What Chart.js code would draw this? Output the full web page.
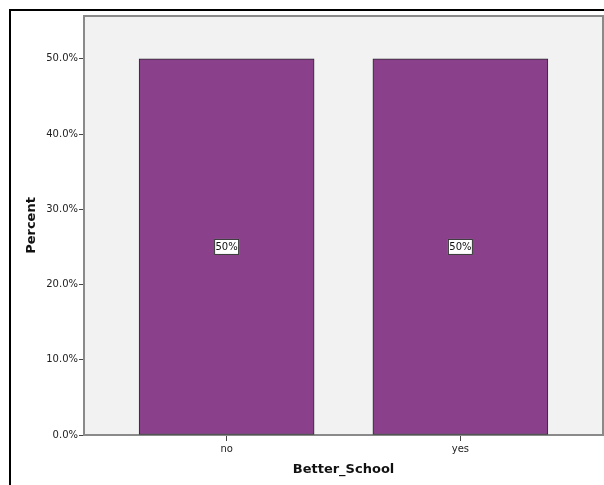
<!DOCTYPE html>
<html>
<head>
<meta charset="utf-8">
<script src="https://cdn.jsdelivr.net/npm/chart.js@4"></script>
<style>
  html, body { margin: 0; padding: 0; background: #fff; }
  #wrap { width: 604px; height: 485px; }
</style>
</head>
<body>
<div id="wrap"><canvas id="schoolChart" width="604" height="485"></canvas></div>
<script>
const categories = ['no', 'yes'];
const percents = [50, 50];
const barLabels = ['50%', '50%'];
const yTicks = [0, 10, 20, 30, 40, 50];

const purple = '#8b408c';

// frame lines and the grey plot panel, like the SPSS output
const panel = {
  id: 'panel',
  beforeDraw(chart) {
    const { ctx, chartArea: a } = chart;
    ctx.save();
    ctx.fillStyle = '#000';
    ctx.fillRect(9, 9, chart.width - 9, 2);
    ctx.fillRect(9, 9, 2, chart.height - 9);
    ctx.fillStyle = '#f2f2f2';
    ctx.fillRect(a.left, a.top, a.right - a.left, a.bottom - a.top);
    ctx.strokeStyle = '#8a8a8a';
    ctx.lineWidth = 2;
    ctx.strokeRect(a.left, a.top, a.right - a.left, a.bottom - a.top);
    ctx.restore();
  }
};

// small white boxes in the middle of each bar
const boxLabels = {
  id: 'boxLabels',
  afterDatasetsDraw(chart) {
    const { ctx } = chart;
    const y = chart.scales.y;
    ctx.save();
    ctx.font = '10px "DejaVu Sans"';
    ctx.textAlign = 'center';
    ctx.textBaseline = 'middle';
    chart.getDatasetMeta(0).data.forEach((bar, i) => {
      const cy = y.getPixelForValue(percents[i] / 2);
      const w = 25, h = 16;
      ctx.fillStyle = '#fff';
      ctx.fillRect(bar.x - w / 2, cy - h / 2, w, h);
      ctx.strokeStyle = '#333';
      ctx.lineWidth = 1;
      ctx.strokeRect(bar.x - w / 2 + 0.5, cy - h / 2 + 0.5, w - 1, h - 1);
      ctx.fillStyle = '#111';
      ctx.fillText(barLabels[i], bar.x, cy + 0.5);
    });
    ctx.restore();
  }
};

new Chart(document.getElementById('schoolChart'), {
  type: 'bar',
  data: {
    datasets: [{
      data: categories.map((c, i) => ({ x: i, y: percents[i] })),
      backgroundColor: purple,
      borderColor: '#2b2b2b',
      borderWidth: 1,
      borderSkipped: false,
      barThickness: 175
    }]
  },
  options: {
    responsive: false,
    animation: false,
    layout: { padding: { left: 0, top: 16, right: 1, bottom: 0 } },
    plugins: {
      legend: { display: false },
      tooltip: { enabled: false }
    },
    scales: {
      x: {
        type: 'linear',
        offset: false,
        min: -0.61,
        max: 1.61,
        afterBuildTicks: s => { s.ticks = categories.map((c, i) => ({ value: i })); },
        afterFit: s => { s.height = 50; },
        ticks: {
          callback: v => categories[v],
          color: '#222',
          font: { family: 'DejaVu Sans', size: 10 },
          padding: 2,
          maxRotation: 0
        },
        grid: { offset: false, drawOnChartArea: false, tickLength: 6, color: '#444' },
        border: { color: '#8a8a8a', width: 2 },
        title: {
          display: true,
          text: 'Better_School',
          color: '#111',
          font: { family: 'DejaVu Sans', size: 13, weight: 'bold' },
          padding: { top: 0, bottom: 8 }
        }
      },
      y: {
        min: 0,
        max: 55.7,
        afterBuildTicks: s => { s.ticks = yTicks.map(v => ({ value: v })); },
        afterFit: s => { s.width = 84; },
        ticks: {
          callback: v => v.toFixed(1) + '%',
          color: '#222',
          font: { family: 'DejaVu Sans', size: 10 },
          padding: 1
        },
        grid: { drawOnChartArea: false, tickLength: 5, color: '#444' },
        border: { color: '#8a8a8a', width: 2 },
        title: {
          display: true,
          text: 'Percent',
          color: '#111',
          font: { family: 'DejaVu Sans', size: 13, weight: 'bold' },
          padding: { top: 24, bottom: 0 }
        }
      }
    }
  },
  plugins: [panel, boxLabels]
});
</script>
</body>
</html>
